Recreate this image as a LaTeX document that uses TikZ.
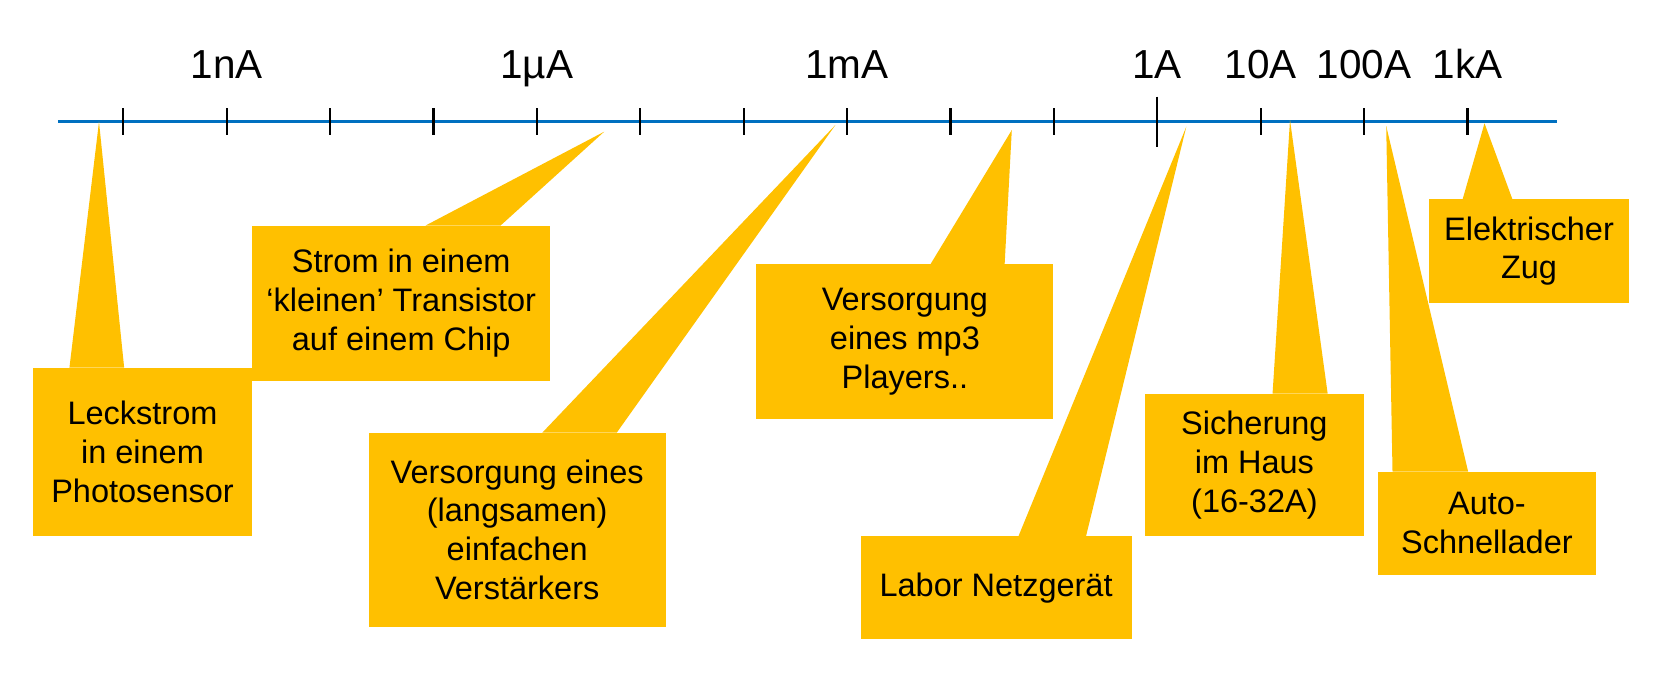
\documentclass[tikz,border=0pt]{standalone}
\usepackage{fontspec}
\setmainfont{Liberation Sans}
\usetikzlibrary{calc}
\definecolor{callout}{HTML}{FFC000}
\definecolor{axisblue}{HTML}{0070C0}
\tikzset{
  box/.style={fill=callout, inner sep=0pt, align=center, font=\fontsize{32.5}{38.7}\selectfont},
  wedge/.style={fill=callout},
  scalelabel/.style={anchor=base, inner sep=0pt, font=\fontsize{40.5}{44}\selectfont},
  tickmark/.style={line width=2.2pt, black},
}
\begin{document}
\begin{tikzpicture}[x=1pt,y=-1pt]
\useasboundingbox (0,0) rectangle (1667,677);
% axis
\coordinate (axL) at (57.9,121.7);
\coordinate (axR) at (1557.4,121.7);
\draw[axisblue, line width=2.7pt] (axL) -- (axR);
\foreach \k in {0,...,13}{
  \ifnum\k=10
    \draw[tickmark] ({123.2+103.4*\k},96.7) -- ({123.2+103.4*\k},146.7);
  \else
    \draw[tickmark] ({123.2+103.4*\k},108.3) -- ({123.2+103.4*\k},135);
  \fi
}
\node[scalelabel] (l1) at ({123.2+103.4*1},78.3) {1nA};
\node[scalelabel] (l4) at ({123.2+103.4*4},78.3) {1µA};
\node[scalelabel] (l7) at ({123.2+103.4*7},78.3) {1mA};
\node[scalelabel] (l10) at ({123.2+103.4*10},78.3) {1A};
\node[scalelabel] (l11) at ({123.2+103.4*11},78.3) {10A};
\node[scalelabel] (l12) at ({123.2+103.4*12},78.3) {100A};
\node[scalelabel] (l13) at ({123.2+103.4*13},78.3) {1kA};
% tips
\coordinate (t1) at (99,121.7);
\coordinate (t2) at (604.2,131.7);
\coordinate (t3) at (835.4,125);
\coordinate (t4) at (1011.8,130);
\coordinate (t5) at (1186.3,126.7);
\coordinate (t6) at (1290,120);
\coordinate (t7) at (1386.2,126);
\coordinate (t8) at (1484.5,123.3);
% boxes
\node[box, minimum width=218.5pt, minimum height=168.3pt] (b1) at (142.5,451.9) {Leckstrom\\in einem\\Photosensor};
\node[box, minimum width=297.8pt, minimum height=155pt] (b2) at (401.2,303.2) {Strom in einem\\‘kleinen’ Transistor\\auf einem Chip};
\node[box, minimum width=297.3pt, minimum height=194pt] (b3) at (517.2,529.7) {Versorgung eines\\(langsamen)\\einfachen\\Verstärkers};
\node[box, minimum width=297.1pt, minimum height=155pt] (b4) at (904.9,341.8) {Versorgung\\eines mp3\\Players..};
\node[box, minimum width=271.2pt, minimum height=103.3pt] (b5) at (996.1,587.7) {Labor Netzgerät};
\node[box, minimum width=219.3pt, minimum height=142.3pt] (b6) at (1254.4,464.9) {Sicherung\\im Haus\\(16-32A)};
\node[box, minimum width=218.8pt, minimum height=103pt] (b7) at (1486.9,523.2) {Auto-\\Schnellader};
\node[box, minimum width=200.5pt, minimum height=103.4pt] (b8) at (1529,251) {Elektrischer\\Zug};
% wedges
\fill[wedge] (t1) -- ($(b1.north west)+(36.4,0)$) -- ($(b1.north west)+(91.1,0)$) -- cycle;
\fill[wedge] (t2) -- ($(b2.north west)+(173.5,0)$) -- ($(b2.north west)+(248.5,0)$) -- cycle;
\fill[wedge] (t3) -- ($(b3.north west)+(174.1,0)$) -- ($(b3.north west)+(248.5,0)$) -- cycle;
\fill[wedge] (t4) -- ($(b4.north west)+(174.4,0)$) -- ($(b4.north west)+(248.5,0)$) -- cycle;
\fill[wedge] (t5) -- ($(b5.north west)+(158.3,0)$) -- ($(b5.north west)+(225.8,0)$) -- cycle;
\fill[wedge] (t6) -- ($(b6.north west)+(128,0)$) -- ($(b6.north west)+(183.1,0)$) -- cycle;
\fill[wedge] (t7) -- ($(b7.north west)+(15.2,0)$) -- ($(b7.north west)+(90.8,0)$) -- cycle;
\fill[wedge] (t8) -- ($(b8.north west)+(34.1,0)$) -- ($(b8.north west)+(83.8,0)$) -- cycle;
\end{tikzpicture}
\end{document}
